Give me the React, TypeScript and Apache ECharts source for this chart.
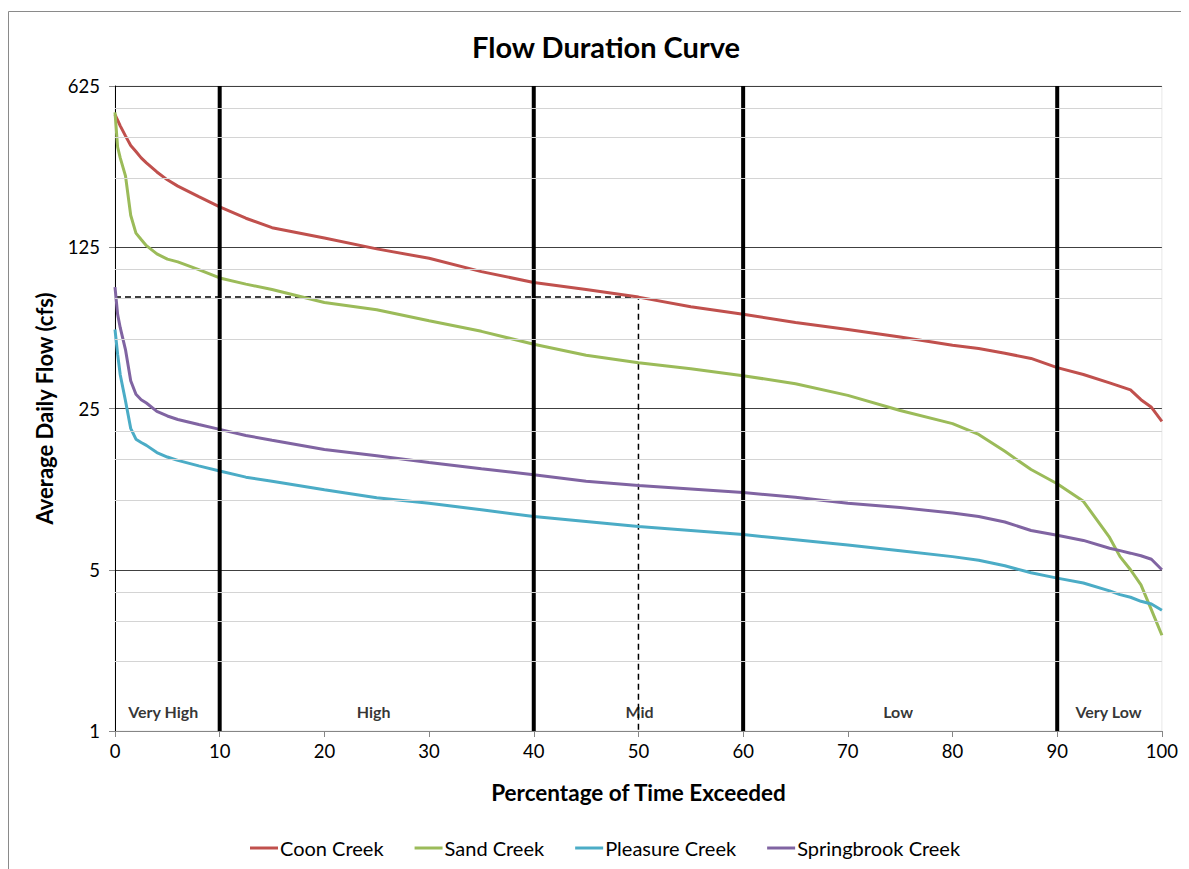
import React, { useEffect, useRef } from "react";
import * as echarts from "echarts";

const pct = [0, 0.25, 0.5, 1, 1.5, 2, 2.5, 3, 4, 5, 6, 8, 10, 12.5, 15, 20, 25, 30, 35, 40, 45, 50, 55, 60, 65, 70, 75, 80, 82.5, 85, 87.5, 90, 92.5, 95, 96, 97, 98, 99, 100];
const coonCreek = [470, 445, 420, 380, 345, 325, 305, 290, 265, 245, 230, 207, 187, 167, 152, 137, 123, 112, 98, 88, 82, 76, 69, 64, 59, 55, 51, 47, 45.5, 43.4, 41.2, 37.6, 35.1, 32.3, 31.2, 30.1, 27.3, 25.3, 22];
const sandCreek = [480, 340, 305, 255, 172, 144, 135, 127, 117, 111, 108, 100, 92, 86.5, 82, 72, 67, 60, 54, 47.5, 42.5, 39.5, 37.2, 34.7, 32, 28.5, 24.5, 21.5, 19.3, 16.3, 13.6, 11.8, 9.9, 6.9, 5.7, 5.0, 4.3, 3.35, 2.6];
const pleasureCreek = [55, 43, 35, 27, 20.5, 18.4, 17.8, 17.3, 16.1, 15.4, 14.9, 14.1, 13.4, 12.6, 12.1, 11.1, 10.25, 9.7, 9.1, 8.5, 8.1, 7.7, 7.4, 7.1, 6.75, 6.4, 6.05, 5.7, 5.5, 5.2, 4.85, 4.6, 4.38, 4.05, 3.9, 3.8, 3.65, 3.55, 3.34];
const springbrookCreek = [84, 64, 56, 45, 33, 28.8, 27.3, 26.4, 24.3, 23.2, 22.4, 21.3, 20.3, 19.1, 18.2, 16.6, 15.6, 14.6, 13.7, 12.9, 12.1, 11.6, 11.2, 10.8, 10.3, 9.7, 9.3, 8.8, 8.5, 8.05, 7.4, 7.06, 6.7, 6.2, 6.05, 5.9, 5.75, 5.55, 5.0];

const seriesNames = ["Coon Creek", "Sand Creek", "Pleasure Creek", "Springbrook Creek"];
const seriesColors = ["#C0504D", "#9BBB59", "#4BACC6", "#8064A2"];

const xTicks = { min: 0, max: 100, interval: 10 };
const yRange = { min: 1, max: 625, base: 5 };
const minorGrid = [2, 3, 4, 10, 15, 20, 50, 75, 100, 250, 375, 500];

const zoneBounds = [10, 40, 60, 90];
const zoneNames = ["Very High", "High", "Mid", "Low", "Very Low"];
const zoneLabelX = [4.6, 24.7, 50.1, 74.8, 94.9];
const zoneLabelY = 1.21;

const medianPct = 50;
const medianFlow = 76;

const FONT = "Lato, 'Open Sans', sans-serif";

export default function App() {
  const ref = useRef<HTMLDivElement>(null);
  useEffect(() => {
    if (!ref.current) return;
    const chart = echarts.init(ref.current, undefined, { renderer: "svg" });
    const values = [coonCreek, sandCreek, pleasureCreek, springbrookCreek];

    const curveSeries = values.map((arr, i) => ({
      name: seriesNames[i],
      type: "line",
      data: pct.map((p, j) => [p, arr[j]]),
      showSymbol: false,
      symbol: "none",
      lineStyle: { color: seriesColors[i], width: 3 },
      itemStyle: { color: seriesColors[i] },
      z: 3,
    }));

    const zoneSeries = zoneBounds.map((b) => ({
      name: "zone" + b,
      type: "line",
      data: [
        [b, yRange.min],
        [b, yRange.max],
      ],
      symbol: "none",
      lineStyle: { color: "#000", width: 4 },
      z: 4,
      silent: true,
    }));

    const option: any = {
      animation: false,
      backgroundColor: "#fff",
      textStyle: { fontFamily: FONT },
      title: {
        text: "Flow Duration Curve",
        left: 459,
        top: 19,
        textStyle: { fontFamily: FONT, fontSize: 29, fontWeight: "bold", color: "#000" },
      },
      graphic: [
        {
          type: "line",
          shape: { x1: 0.5, y1: 3.5, x2: 0.5, y2: 900 },
          style: { stroke: "#8a8a8a", lineWidth: 1 },
          silent: true,
        },
        {
          type: "line",
          shape: { x1: 0.5, y1: 3.5, x2: 1300, y2: 3.5 },
          style: { stroke: "#8a8a8a", lineWidth: 1 },
          silent: true,
        },
      ],
      legend: {
        data: seriesNames,
        left: 237,
        top: 825,
        icon: "rect",
        itemWidth: 28,
        itemHeight: 3,
        itemGap: 31,
        textStyle: { fontFamily: FONT, fontSize: 20, color: "#000", padding: [0, 0, 0, -3] },
      },
      grid: {
        left: 107,
        right: 18,
        top: 78,
        bottom: 138,
        show: true,
        borderColor: "#e8e8e8",
        borderWidth: 1,
        containLabel: false,
      },
      xAxis: {
        type: "value",
        min: xTicks.min,
        max: xTicks.max,
        interval: xTicks.interval,
        name: "Percentage of Time Exceeded",
        nameLocation: "middle",
        nameGap: 50,
        nameTextStyle: { fontFamily: FONT, fontSize: 22.5, fontWeight: "bold", color: "#000" },
        axisLine: { show: true, lineStyle: { color: "#868686", width: 1 } },
        axisTick: { show: true, length: 6, lineStyle: { color: "#868686" } },
        axisLabel: { fontFamily: FONT, fontSize: 18.5, color: "#000", margin: 10 },
        splitLine: { show: false },
      },
      yAxis: {
        type: "log",
        logBase: yRange.base,
        min: yRange.min,
        max: yRange.max,
        name: "Average Daily Flow (cfs)",
        nameLocation: "middle",
        nameGap: 60,
        nameRotate: 90,
        nameTextStyle: { fontFamily: FONT, fontSize: 22, fontWeight: "bold", color: "#000" },
        axisLine: { show: true, lineStyle: { color: "#000", width: 1 } },
        axisTick: { show: true, length: 6, lineStyle: { color: "#868686" } },
        axisLabel: {
          fontFamily: FONT,
          fontSize: 18.5,
          color: "#000",
          margin: 15,
          formatter: (v: number) => String(Math.round(v)),
        },
        splitLine: { show: true, lineStyle: { color: "#404040", width: 1 } },
      },
      series: [
        {
          name: "minorGrid",
          type: "line",
          data: [],
          z: 1,
          silent: true,
          markLine: {
            silent: true,
            symbol: "none",
            label: { show: false },
            lineStyle: { color: "#d4d4d4", type: "solid", width: 1 },
            data: minorGrid.map((v) => ({ yAxis: v })),
          },
        },
        {
          name: "median",
          type: "line",
          data: [
            [xTicks.min, medianFlow],
            [medianPct, medianFlow],
            [medianPct, yRange.min],
          ],
          symbol: "none",
          lineStyle: { color: "#000", width: 1.5, type: [6, 4] },
          z: 2,
          silent: true,
        },
        ...curveSeries,
        ...zoneSeries,
        {
          name: "zoneLabels",
          type: "scatter",
          symbolSize: 1,
          itemStyle: { color: "transparent" },
          data: zoneNames.map((n, i) => ({ name: n, value: [zoneLabelX[i], zoneLabelY] })),
          label: {
            show: true,
            position: "inside",
            formatter: "{b}",
            fontFamily: FONT,
            fontSize: 16,
            fontWeight: "bold",
            color: "#000",
          },
          z: 5,
          silent: true,
        },
      ],
    };
    chart.setOption(option);
    return () => chart.dispose();
  }, []);
  return <div ref={ref} style={{ width: 1173, height: 861 }} />;
}
